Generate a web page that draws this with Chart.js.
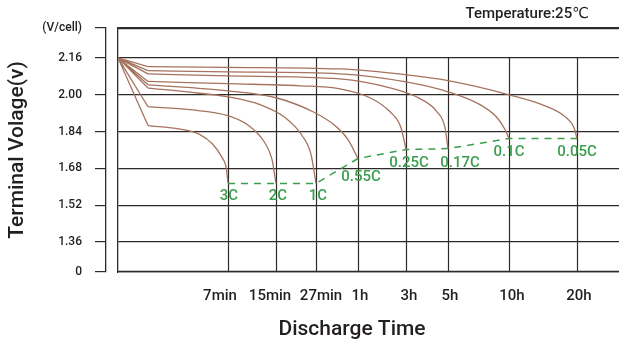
<!DOCTYPE html>
<html>
<head>
<meta charset="utf-8">
<script src="https://cdn.jsdelivr.net/npm/chart.js@4.4.1/dist/chart.umd.min.js"></script>
<style>
  html, body { margin: 0; padding: 0; background: #fff; overflow: hidden; }
  canvas { display: block; }
</style>
</head>
<body>
<canvas id="chart" width="619" height="347"></canvas>
<script>
// x axis is a schematic time axis: tick positions in axis units
const timeLabels = ["7min", "15min", "27min", "1h", "3h", "5h", "10h", "20h"];
const timeTicks = [22, 31.6, 39.6, 48, 57.6, 66, 78.2, 91.8];

// y axis: volts per cell (bottom "0" marks the broken axis)
const voltTicks = [1.23, 1.36, 1.52, 1.68, 1.84, 2.00, 2.16, 2.29];
const voltLabels = ["0", "1.36", "1.52", "1.68", "1.84", "2.00", "2.16", "(V/cell)"];

const startV = 2.16;
const rateLabels = ["3C", "2C", "1C", "0.55C", "0.25C", "0.17C", "0.1C", "0.05C"];

// discharge curves [time position, volts], from the knee to the cut-off
const curve3C = [[6, 1.866], [12.4, 1.851], [16.4, 1.827], [19, 1.784], [20.8, 1.728], [21.7, 1.676], [22, 1.615]];
const curve2C = [[6, 1.948], [14.4, 1.935], [22, 1.909], [26.4, 1.862], [29.2, 1.797], [30.8, 1.719], [31.6, 1.615]];
const curve1C = [[6, 2.029], [14.4, 2.011], [22, 1.991], [28.4, 1.957], [33.4, 1.901], [36.8, 1.823], [38.6, 1.741], [39.6, 1.615]];
const curve055C = [[6, 2.043], [22, 2.017], [31.6, 1.987], [39, 1.926], [43.4, 1.866], [46, 1.805], [48, 1.723]];
const curve025C = [[6, 2.058], [22, 2.048], [36.4, 2.039], [44.4, 2.026], [50.4, 1.987], [54.4, 1.926], [56.6, 1.857], [57.6, 1.762]];
const curve017C = [[6, 2.091], [22, 2.082], [44.4, 2.069], [54.4, 2.030], [60.4, 1.983], [63.8, 1.926], [65.4, 1.857], [66, 1.766]];
const curve01C = [[6, 2.105], [22, 2.099], [44.4, 2.091], [57.6, 2.056], [66, 2.013], [72.4, 1.957], [75.8, 1.901], [77.4, 1.849], [78.2, 1.81]];
const curve005C = [[6, 2.122], [22, 2.119], [44.4, 2.112], [57.8, 2.086], [66, 2.061], [78.2, 2.000], [85.4, 1.952], [89.4, 1.905], [91.2, 1.857], [91.8, 1.81]];

const curves = [curve3C, curve2C, curve1C, curve055C, curve025C, curve017C, curve01C, curve005C];

const brown = "#a5735e";
const green = "#3a9e4e";
const gridColor = "#2f2a2a";
const textColor = "#231f1f";

Chart.defaults.font.family = "Roboto, 'DejaVu Sans', sans-serif";
Chart.defaults.color = textColor;

const toPts = arr => arr.map(p => ({ x: p[0], y: p[1] }));

// straight drops from the start voltage to each knee
const fan = [];
for (const c of curves) {
  fan.push({ x: 0, y: startV }, { x: c[0][0], y: c[0][1] }, { x: c[0][0], y: null });
}
const cutoff = curves.map(c => ({ x: c[c.length - 1][0], y: c[c.length - 1][1] }));

const datasets = curves.map((c, i) => ({
  label: rateLabels[i],
  data: toPts(c),
  borderColor: brown,
  borderWidth: 1.3,
  pointRadius: 0,
  cubicInterpolationMode: "monotone",
  fill: false
}));
datasets.push({
  label: "start",
  data: fan,
  borderColor: brown,
  borderWidth: 1.3,
  pointRadius: 0,
  tension: 0,
  spanGaps: false
});
datasets.push({
  label: "cut-off",
  data: cutoff,
  borderColor: green,
  borderWidth: 1.5,
  borderDash: [7, 6],
  pointRadius: 0,
  tension: 0
});

// small nudges (axis units / px) so labels sit like the original
const xLabelShift = [-1.6, -1.2, 1, 0.4, 0.6, 0.4, 0.6, 0.4];
const nudge = [[1, 13], [2, 13], [2, 13], [3, 19], [3, 14], [12, 15], [0, 14], [0, 14]];

const decor = {
  id: "decor",
  beforeDatasetsDraw(chart) {
    const { ctx, chartArea, scales: { x, y } } = chart;
    const top = y.getPixelForValue(startV);
    ctx.save();
    ctx.strokeStyle = gridColor;
    ctx.lineWidth = 1.2;
    for (const t of timeTicks) {
      const px = Math.round(x.getPixelForValue(t)) + 0.5;
      ctx.beginPath();
      ctx.moveTo(px, top);
      ctx.lineTo(px, chartArea.bottom);
      ctx.stroke();
    }
    ctx.restore();
  },
  afterDatasetsDraw(chart) {
    const { ctx, scales: { x, y } } = chart;
    ctx.save();
    ctx.fillStyle = green;
    ctx.font = "500 15px Roboto, sans-serif";
    ctx.textAlign = "center";
    ctx.textBaseline = "middle";
    curves.forEach((c, i) => {
      const end = c[c.length - 1];
      ctx.fillText(rateLabels[i], x.getPixelForValue(end[0]) + nudge[i][0], y.getPixelForValue(end[1]) + nudge[i][1]);
    });
    ctx.restore();
  },
  afterDraw(chart) {
    const { ctx, chartArea, scales: { y } } = chart;
    ctx.save();
    // frame lines at the top and bottom of the plot
    ctx.strokeStyle = gridColor;
    ctx.lineWidth = 1.3;
    for (const v of [y.max, y.min]) {
      const py = Math.round(y.getPixelForValue(v)) + (v === y.max ? 0.5 : -0.5);
      ctx.beginPath();
      ctx.moveTo(chartArea.left, py);
      ctx.lineTo(chartArea.right, py);
      ctx.stroke();
    }
    ctx.fillStyle = textColor;
    ctx.textBaseline = "middle";
    ctx.font = "500 15px Roboto, 'DejaVu Sans', sans-serif";
    ctx.textAlign = "right";
    ctx.fillText("Temperature:25℃", 589, 14);
    ctx.font = "500 21px Roboto, sans-serif";
    ctx.textAlign = "center";
    ctx.fillText("Discharge Time", 352, 330);
    ctx.restore();
  }
};

new Chart(document.getElementById("chart"), {
  type: "line",
  data: { datasets },
  plugins: [decor],
  options: {
    responsive: false,
    animation: false,
    layout: { padding: { top: 28, right: 0, bottom: 0, left: 0 } },
    plugins: { legend: { display: false }, tooltip: { enabled: false } },
    scales: {
      x: {
        type: "linear",
        min: 0,
        max: 100.2,
        afterBuildTicks: s => { s.ticks = timeTicks.map((v, i) => ({ value: v + xLabelShift[i] })); },
        afterFit: s => { s.height = 75; },
        grid: { display: false, drawTicks: false },
        border: { display: false },
        ticks: {
          padding: 15,
          autoSkip: false,
          maxRotation: 0,
          font: { size: 15, weight: "500" },
          callback: (v, i) => timeLabels[i]
        }
      },
      y: {
        type: "linear",
        position: "left",
        weight: 1,
        min: 1.23,
        max: 2.29,
        afterBuildTicks: s => { s.ticks = voltTicks.map(v => ({ value: v })); },
        afterFit: s => { s.width = 106; },
        grid: { color: gridColor, lineWidth: 1.2, tickLength: 11 },
        border: { display: true, color: gridColor, width: 1.3 },
        ticks: {
          padding: 13,
          font: { size: 12, weight: "500" },
          callback: (v, i) => voltLabels[i]
        },
        title: {
          display: true,
          text: "Terminal Volage(v)",
          font: { size: 21, weight: "500" },
          padding: { top: 5 }
        }
      },
      gap: {
        type: "linear",
        position: "left",
        weight: 0,
        min: 1.23,
        max: 2.29,
        afterFit: s => { s.width = 12; },
        grid: { display: false, drawTicks: false },
        border: { display: true, color: gridColor, width: 1.3 },
        ticks: { display: false }
      }
    }
  }
});
</script>
</body>
</html>
